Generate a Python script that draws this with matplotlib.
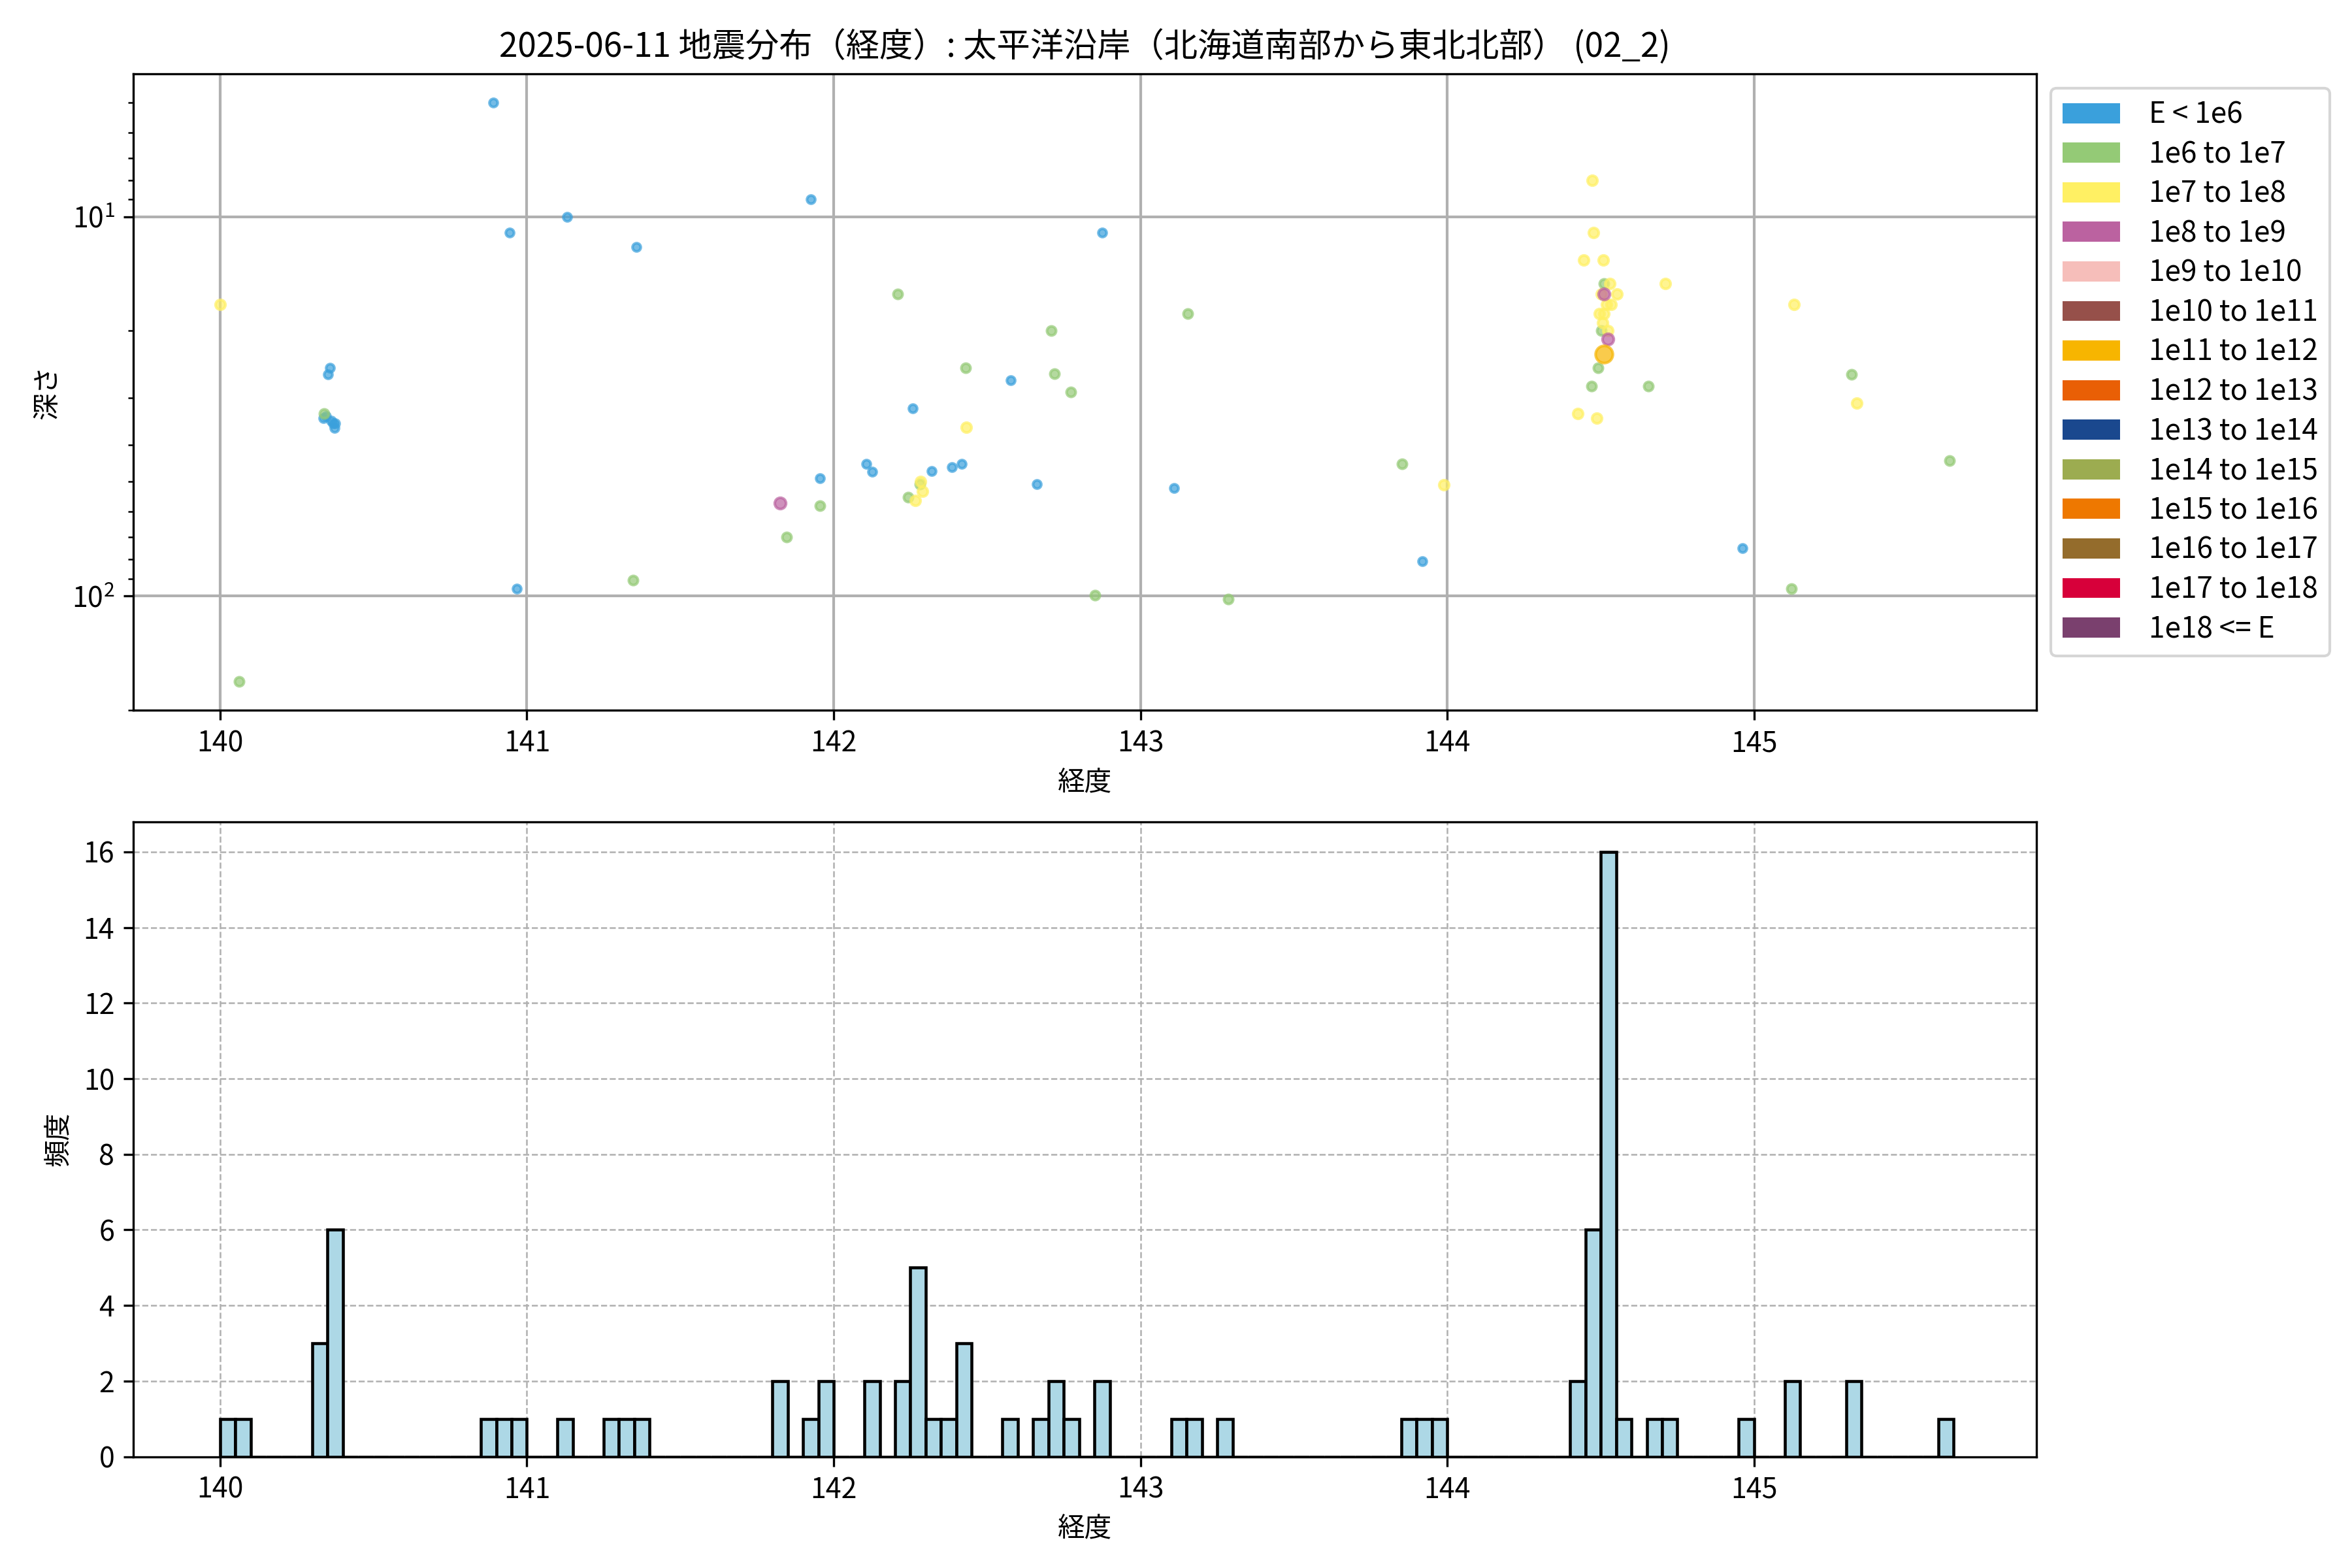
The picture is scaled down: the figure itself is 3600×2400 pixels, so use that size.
import numpy as np
import matplotlib
matplotlib.use("Agg")
import matplotlib.pyplot as plt
from matplotlib.patches import Patch

plt.rcParams['font.family'] = ['Noto Sans CJK JP', 'DejaVu Sans']

# ---- data ----
longitude = [140.000, 140.062, 140.359, 140.352, 140.339, 140.337, 140.345, 140.369, 140.375, 140.373,
             140.362, 140.890, 140.943, 140.966, 141.131, 141.270, 141.347, 141.356, 141.826, 141.846,
             141.925, 141.955, 141.956, 142.106, 142.125, 142.208, 142.242, 142.257, 142.283, 142.281,
             142.290, 142.267, 142.320, 142.385, 142.418, 142.430, 142.432, 142.577, 142.663, 142.710,
             142.720, 142.772, 142.852, 142.876, 143.109, 143.154, 143.285, 143.852, 143.919, 143.988,
             144.425, 144.444, 144.473, 144.476, 144.469, 144.486, 144.491, 144.495, 144.509, 144.510,
             144.529, 144.510, 144.503, 144.554, 144.520, 144.534, 144.511, 144.506, 144.502, 144.524,
             144.524, 144.511, 144.515, 144.515, 144.515, 144.655, 144.710, 144.962, 145.122, 145.130,
             145.318, 145.334, 145.638]
depth = [17.0, 168.0, 25.0, 26.0, 33.0, 34.0, 33.5, 35.0, 35.0, 36.0,
         34.5, 5.0, 11.0, 95.8, 10.0, 0.0, 90.8, 12.0, 56.9, 70.0,
         9.0, 57.9, 48.9, 44.8, 47.0, 16.0, 54.9, 32.0, 49.9, 50.8,
         52.9, 56.0, 46.9, 45.8, 44.8, 25.0, 35.9, 27.0, 50.8, 20.0,
         25.9, 29.0, 99.6, 11.0, 51.9, 18.0, 101.9, 44.9, 80.9, 50.9,
         33.0, 13.0, 8.0, 11.0, 28.0, 34.0, 25.0, 18.0, 13.0, 15.0,
         15.0, 16.0, 16.0, 16.0, 17.0, 17.0, 18.0, 19.0, 20.0, 20.0,
         21.0, 23.0, 0.0, 0.0, 0.0, 28.0, 15.0, 74.9, 95.8, 17.0,
         26.0, 31.0, 43.9]
energy_class = [2, 1, 0, 0, 1, 0, 0, 0, 0, 0,
                0, 0, 0, 0, 0, 0, 1, 0, 3, 1,
                0, 1, 0, 0, 0, 1, 1, 0, 2, 1,
                2, 2, 0, 0, 0, 1, 2, 0, 0, 1,
                1, 1, 1, 0, 0, 1, 1, 1, 0, 2,
                2, 2, 2, 2, 1, 2, 1, 2, 2, 1,
                2, 3, 2, 2, 2, 2, 2, 2, 1, 2,
                3, 6, 0, 0, 0, 1, 2, 0, 1, 2,
                1, 2, 1]

class_labels = ['E < 1e6', '1e6 to 1e7', '1e7 to 1e8', '1e8 to 1e9', '1e9 to 1e10',
                '1e10 to 1e11', '1e11 to 1e12', '1e12 to 1e13', '1e13 to 1e14',
                '1e14 to 1e15', '1e15 to 1e16', '1e16 to 1e17', '1e17 to 1e18', '1e18 <= E']
class_colors = ['#3aa0dc', '#94ca76', '#fff063', '#bb62a0', '#f6beba',
                '#96504a', '#f7b500', '#e95f05', '#1a488e', '#9cac50',
                '#ee7800', '#946c2c', '#d7003a', '#7a406e']
class_sizes = [9, 11, 13, 17, 21, 28, 40, 48, 56, 64, 72, 80, 88, 96]

bin_edges = np.round(140.0 + 0.05 * np.arange(114), 2)

title = '2025-06-11 地震分布（経度）: 太平洋沿岸（北海道南部から東北北部） (02_2)'

# ---- figure ----
fig = plt.figure(figsize=(12, 8), dpi=300)
ax1 = fig.add_axes([0.0568, 0.547, 0.809, 0.406])
ax2 = fig.add_axes([0.0568, 0.071, 0.809, 0.405])

lon = np.array(longitude)
dep = np.array(depth)
cls = np.array(energy_class)
vis = dep > 0

ax1.set_yscale('log')
for c in range(len(class_labels)):
    m = vis & (cls == c)
    if m.any():
        ax1.scatter(lon[m], dep[m], s=class_sizes[c], color=class_colors[c],
                    alpha=0.7, linewidths=1.0, zorder=3)
ax1.invert_yaxis()
ax1.grid(True, which='major', color='#b0b0b0', linewidth=1.0)
ax1.set_axisbelow(True)
ax1.set_title(title, fontsize=12.3)
ax1.set_xlabel('経度', fontsize=10)
ax1.set_ylabel('深さ', fontsize=10)
ax1.tick_params(labelsize=10.3)

handles = [Patch(facecolor=col, label=lab) for col, lab in zip(class_colors, class_labels)]
ax1.legend(handles=handles, loc='upper left', bbox_to_anchor=(1.0, 1.0),
           fontsize=10.6, borderaxespad=0.5, handletextpad=1.0, labelspacing=0.33)

ax2.hist(lon, bins=bin_edges, color='lightblue', edgecolor='black', linewidth=1.1, zorder=3)
ax2.grid(True, linestyle='--', linewidth=0.6, color='#b0b0b0')
ax2.set_axisbelow(True)
ax2.set_xlabel('経度', fontsize=10)
ax2.set_ylabel('頻度', fontsize=10)
ax2.tick_params(labelsize=10.3)
ax2.set_yticks(np.arange(0, 17, 2))
ax2.set_xlim(ax1.get_xlim())

fig.savefig('out.png', dpi=300)
